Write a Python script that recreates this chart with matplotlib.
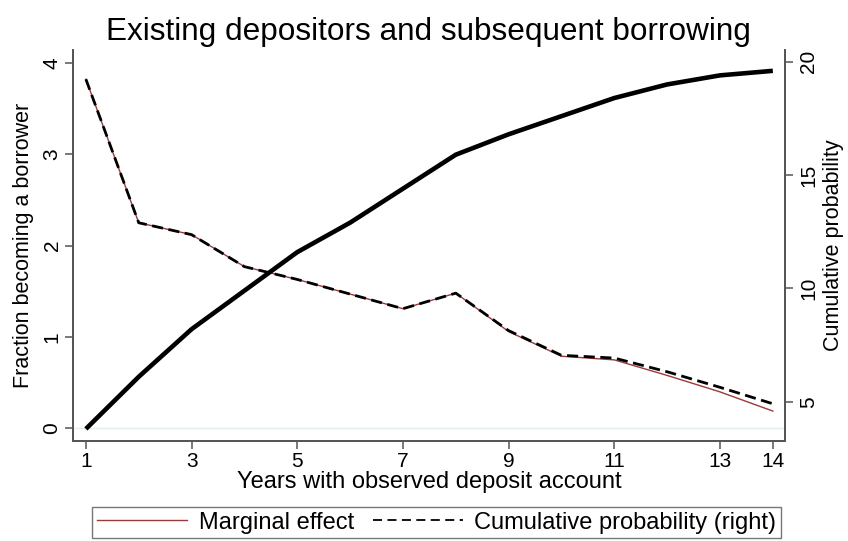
import matplotlib
matplotlib.use("Agg")
import matplotlib.pyplot as plt
from matplotlib.lines import Line2D

plt.rcParams['font.family'] = ['Liberation Sans', 'DejaVu Sans']

years = [1, 2, 3, 4, 5, 6, 7, 8, 9, 10, 11, 12, 13, 14]
marginal = [3.82, 2.25, 2.12, 1.77, 1.63, 1.47, 1.31, 1.48, 1.06, 0.79, 0.75, 0.58, 0.40, 0.19]
marginal_alt = [3.82, 2.25, 2.12, 1.77, 1.63, 1.47, 1.31, 1.48, 1.07, 0.80, 0.77, 0.62, 0.45, 0.27]
cumulative = [3.8, 6.1, 8.2, 9.9, 11.6, 12.9, 14.4, 15.9, 16.8, 17.6, 18.4, 19.0, 19.4, 19.6]

x_ticks = [1, 3, 5, 7, 9, 11, 13, 14]
left_ticks = [0, 1, 2, 3, 4]
right_ticks = [5, 10, 15, 20]

axis_grey = '#555555'
red = '#9b3a3a'

fig = plt.figure(figsize=(8.48, 5.41), dpi=100)
ax = fig.add_axes([0.0857, 0.1854, 0.8400, 0.7222])
ax2 = ax.twinx()

ax.axhline(0, color='#e4eeee', lw=1.0, zorder=1)
ax.plot(years, marginal, color=red, lw=1.0, zorder=3)
ax.plot(years, marginal_alt, color='black', lw=2.0, dashes=(4, 2), zorder=4)
ax2.plot(years, cumulative, color='black', lw=3.3, solid_capstyle='butt')

ax.set_xlim(0.75, 14.23)
ax.set_ylim(-0.134, 4.14)
ax2.set_ylim(3.28, 20.52)

ax.set_xticks(x_ticks)
ax.set_yticks(left_ticks)
ax2.set_yticks(right_ticks)

for a in (ax, ax2):
    a.spines['top'].set_visible(False)
    for side in ('left', 'right', 'bottom'):
        a.spines[side].set_color(axis_grey)
        a.spines[side].set_linewidth(1.3)
    a.tick_params(length=6, width=1.1, color=axis_grey, labelsize=15, pad=2)

ax.tick_params(axis='y', labelrotation=90)
ax2.tick_params(axis='y', labelrotation=90, pad=4)
for lbl in ax.get_yticklabels() + ax2.get_yticklabels():
    lbl.set_verticalalignment('center')

ax.set_xlabel('Years with observed deposit account', fontsize=17, labelpad=0)
ax.set_ylabel('Fraction becoming a borrower', fontsize=15.5, labelpad=6)
ax2.set_ylabel('Cumulative probability', fontsize=15.5, labelpad=4)
ax.set_title('Existing depositors and subsequent borrowing', fontsize=22.7, pad=7)

handles = [
    Line2D([], [], color=red, lw=1.0),
    Line2D([], [], color='black', lw=1.3, dashes=(5, 3)),
]
leg = fig.legend(handles, ['Marginal effect', 'Cumulative probability (right)'],
                 loc='lower center', bbox_to_anchor=(0.515, -0.004), ncol=2,
                 fontsize=17, frameon=True, fancybox=False, handlelength=3.8,
                 columnspacing=0.8, borderpad=0.2, handletextpad=0.5,
                 borderaxespad=0.2)
leg.get_frame().set_edgecolor(axis_grey)
leg.get_frame().set_linewidth(1.0)

fig.savefig('out.png', dpi=100)
